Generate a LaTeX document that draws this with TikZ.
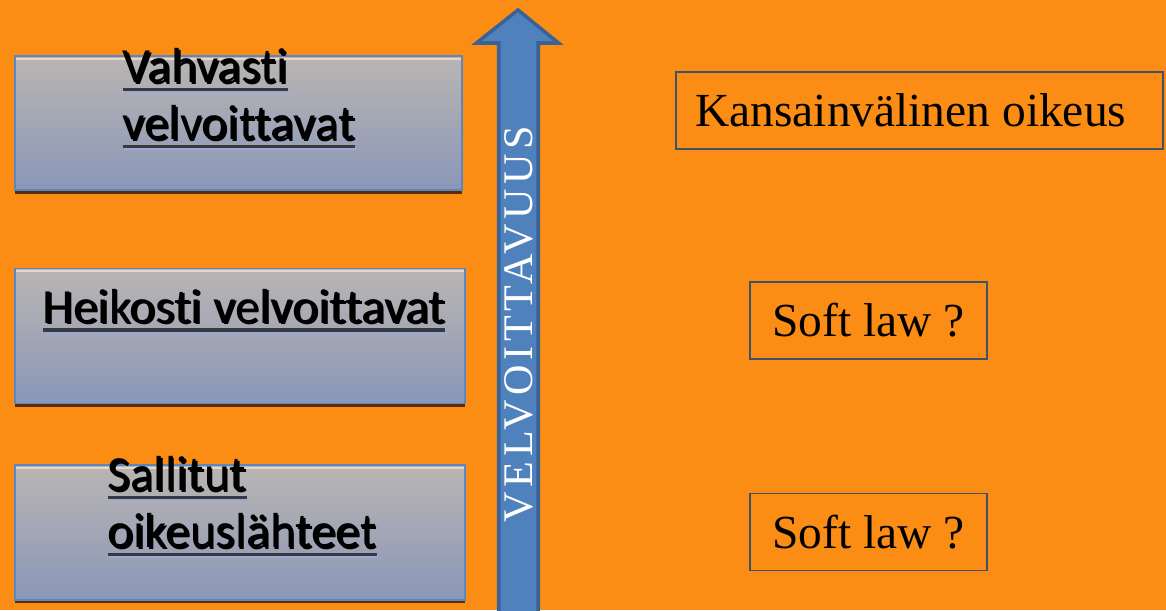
\documentclass[tikz,border=0pt]{standalone}
\usepackage{fontspec}
\setmainfont{Liberation Serif}
\newfontfamily\calibrifont[Ligatures=CommonOff]{Carlito}
\newfontfamily\spacedfont[LetterSpace=11]{Liberation Serif}
\usetikzlibrary{positioning, shadows}

\definecolor{bgorange}{HTML}{FB8C14}
\definecolor{boxtop}{HTML}{BAB5B2}
\definecolor{boxbottom}{HTML}{8A97B8}
\definecolor{boxborder}{HTML}{5A86C2}
\definecolor{boxshadow}{HTML}{5A2C05}
\definecolor{boxhilite}{HTML}{EAD6C6}
\definecolor{ulgray}{HTML}{3A3A3E}
\definecolor{txtshadow}{HTML}{9AAAD4}
\definecolor{arrowblue}{HTML}{4F81BD}
\definecolor{arrowedge}{HTML}{3B6296}
\definecolor{lawborder}{HTML}{3E526E}

\newsavebox{\ulsavebox}
\newcommand{\lineundertext}[1]{%
  \sbox{\ulsavebox}{#1}%
  \rlap{\raisebox{-1pt}{\kern1pt\textcolor{txtshadow}{\usebox{\ulsavebox}}}}%
  \rlap{\raisebox{-1pt}{\kern1pt\textcolor{txtshadow}{\rule[-4.9pt]{\wd\ulsavebox}{2pt}}}}%
  \rlap{\textcolor{ulgray}{\rule[-4.9pt]{\wd\ulsavebox}{2pt}}}%
  \usebox{\ulsavebox}}

\begin{document}
\begin{tikzpicture}[
    levelbox/.style={draw=boxborder, line width=0.8pt, top color=boxtop, bottom color=boxbottom,
        minimum width=9cm, minimum height=2.7cm,
        drop shadow={shadow xshift=0cm, shadow yshift=-0.07cm, fill=boxshadow, opacity=1},
        path picture={\draw[boxhilite, line width=1.2pt]
            ([yshift=-1.6pt]path picture bounding box.north west) -- ([yshift=-1.6pt]path picture bounding box.north east);}},
    leveltext/.style={inner sep=0pt, align=left, font=\calibrifont\fontsize{28}{32.4}\selectfont},
    lawbox/.style={draw=lawborder, line width=0.8pt, minimum height=1.54cm, font=\fontsize{27}{32}\selectfont}
]
    \fill[bgorange] (0,0) rectangle (23.32,12.2);
    \useasboundingbox (0,0) rectangle (23.32,12.2);

    \node[levelbox, minimum width=8.94cm, minimum height=2.68cm] (strong) at (4.77,9.74) {};
    \node[levelbox, below=1.54cm of strong.south west, anchor=north west] (weak) {};
    \node[levelbox, below=1.2cm of weak.south west, anchor=north west] (allowed) {};

    \node[leveltext, below right=-0.14cm and 2.16cm of strong.north west] (strongtext) {\lineundertext{Vahvasti}\\\lineundertext{velvoittavat}};
    \node[leveltext, below right=0.42cm and 0.56cm of weak.north west] (weaktext) {\lineundertext{Heikosti velvoittavat}};
    \node[leveltext, below right=-0.16cm and 1.86cm of allowed.north west] (allowedtext) {\lineundertext{Sallitut}\\\lineundertext{oikeuslähteet}};

    \filldraw[fill=arrowblue, draw=arrowedge, line width=2pt]
        (9.975,-0.2) -- (9.975,11.34) -- (9.53,11.34) -- (10.36,12.0) -- (11.17,11.34) -- (10.765,11.34) -- (10.765,-0.2) -- cycle;
    \node[rotate=90, text=white, font=\spacedfont\fontsize{24}{28}\selectfont] (axis) at (10.38,5.72) {VELVOITTAVUUS};

    \node[lawbox, minimum width=9.74cm] (intl) at (18.39,9.99) {Kansainvälinen oikeus\kern0.35cm};
    \node[lawbox, minimum width=4.74cm] (soft1) at (17.37,5.79) {Soft law ?};
    \node[lawbox, minimum width=4.74cm, below=2.66cm of soft1] (soft2) {Soft law ?};
\end{tikzpicture}
\end{document}
